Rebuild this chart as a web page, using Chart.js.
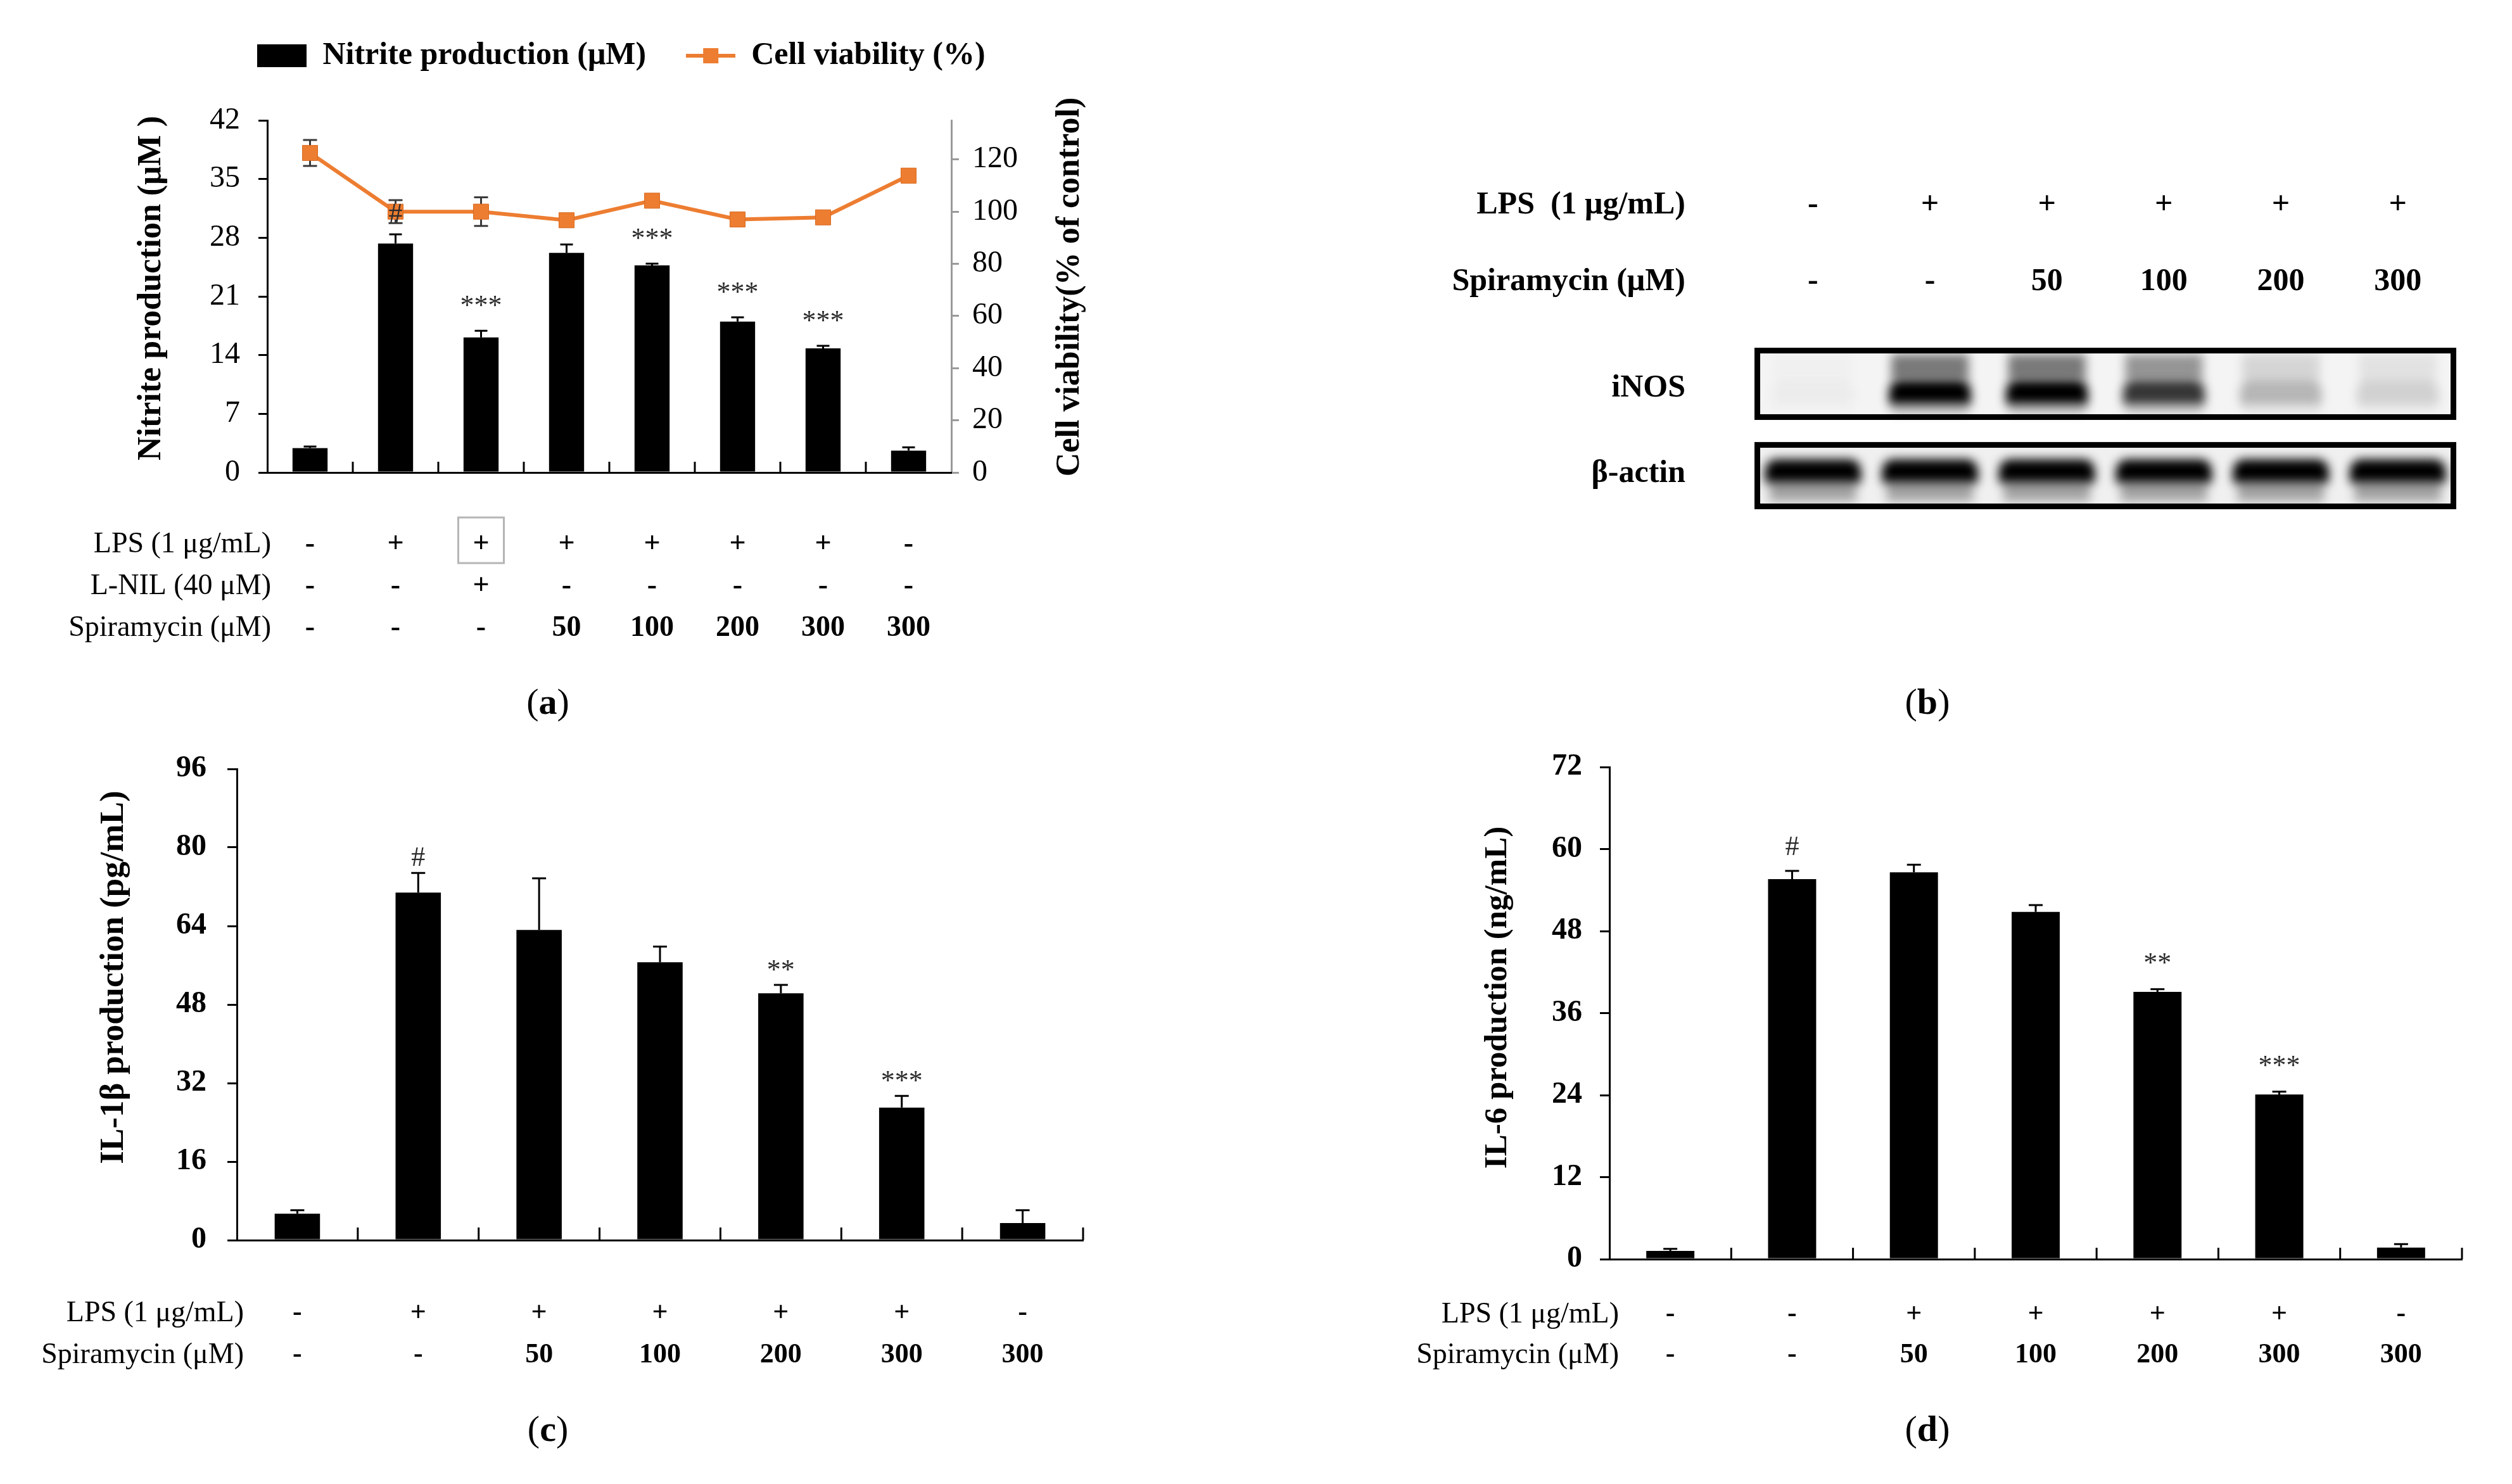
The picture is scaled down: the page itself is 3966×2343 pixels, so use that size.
<!DOCTYPE html>
<html><head><meta charset="utf-8">
<script src="https://cdn.jsdelivr.net/npm/chart.js@4.4.1/dist/chart.umd.min.js"></script>
<style>
html,body{margin:0;padding:0;background:#fff;}
#wrap{position:relative;width:3966px;height:2343px;overflow:hidden;background:#fff;}
canvas{position:absolute;}
.plabel{position:absolute;transform:translate(-50%,-50%);font-family:'Liberation Serif','Times New Roman',serif;font-size:58px;color:#000;white-space:nowrap;line-height:1;}
</style></head><body>
<div id="wrap">
<canvas id="chartA" width="1962" height="1171" style="left:0;top:0"></canvas>
<canvas id="chartB" width="1983" height="1171" style="left:1983px;top:0"></canvas>
<canvas id="chartC" width="1983" height="1172" style="left:0;top:1171px"></canvas>
<canvas id="chartD" width="1983" height="1172" style="left:1983px;top:1171px"></canvas>
<div class="plabel" style="left:865px;top:1108px">(<b>a</b>)</div>
<div class="plabel" style="left:3043px;top:1108px">(<b>b</b>)</div>
<div class="plabel" style="left:865px;top:2256px">(<b>c</b>)</div>
<div class="plabel" style="left:3043px;top:2256px">(<b>d</b>)</div>
</div>
<script>
// ---------------- DATA ----------------
// Panel (a)
const groupsA = ['Control','LPS','LPS+L-NIL','LPS+Spi50','LPS+Spi100','LPS+Spi200','LPS+Spi300','Spi300'];
const lpsRowA = ['-','+','+','+','+','+','+','-'];
const lnilRowA = ['-','-','+','-','-','-','-','-'];
const spiraRowA = ['-','-','-','50','100','200','300','300'];
const nitrite = [2.9, 27.3, 16.1, 26.2, 24.7, 18.0, 14.8, 2.6];
const nitriteErr = [0.2, 1.1, 0.8, 1.0, 0.2, 0.5, 0.3, 0.4];
const viability = [122.5, 100.0, 100.0, 96.7, 104.2, 97.0, 97.8, 113.8];
const viabilityErr = [5.0, 4.4, 5.5, 1.5, 1.0, 1.0, 1.2, 1.0];
const nitriteSig = ['', '#', '***', '', '***', '***', '***', ''];
const nitriteTicks = [0, 7, 14, 21, 28, 35, 42];
const viabilityTicks = [0, 20, 40, 60, 80, 100, 120];
const rowNamesA = ['LPS (1 \u03bcg/mL)', 'L-NIL (40 \u03bcM)', 'Spiramycin (\u03bcM)'];
const titlesA = ['Nitrite production (\u03bcM )', 'Cell viability(% of control)'];

// Panel (b) western blot
const lanesB = ['1','2','3','4','5','6'];
const lpsRowB = ['-','+','+','+','+','+'];
const spiraRowB = ['-','-','50','100','200','300'];
const iNOSLevel = [0.03, 1.0, 1.0, 0.78, 0.25, 0.14];
const actinLevel = [1, 1, 1, 1, 1, 1];
const rowNamesB = ['LPS  (1 \u03bcg/mL)', 'Spiramycin (\u03bcM)'];
const blotNames = ['iNOS', '\u03b2-actin'];

// Panel (c)
const groupsCD = ['Control','LPS','LPS+Spi50','LPS+Spi100','LPS+Spi200','LPS+Spi300','Spi300'];
const lpsRowC = ['-','+','+','+','+','+','-'];
const spiraRowCD = ['-','-','50','100','200','300','300'];
const il1b = [5.4, 70.8, 63.2, 56.6, 50.3, 27.0, 3.5];
const il1bErr = [0.7, 4.0, 10.5, 3.2, 1.7, 2.4, 2.6];
const il1bSig = ['', '#', '', '', '**', '***', ''];
const il1bTicks = [0, 16, 32, 48, 64, 80, 96];
const titleC = 'IL-1\u03b2 production (pg/mL)';

// Panel (d)
const lpsRowD = ['-','-','+','+','+','+','-'];
const il6 = [1.2, 55.6, 56.6, 50.8, 39.1, 24.1, 1.7];
const il6Err = [0.3, 1.2, 1.1, 1.0, 0.4, 0.4, 0.5];
const il6Sig = ['', '#', '', '', '**', '***', ''];
const il6Ticks = [0, 12, 24, 36, 48, 60, 72];
const titleD = 'IL-6 production (ng/mL)';
const rowNamesCD = ['LPS (1 \u03bcg/mL)', 'Spiramycin (\u03bcM)'];

// ---------------- STYLE / HELPERS ----------------
const ORANGE = '#ED7D31';
const FONT = "'Liberation Serif', 'Times New Roman', serif";
Chart.defaults.font.family = FONT;
Chart.defaults.color = '#000';
Chart.defaults.animation = false;

function fontStr(size, weight) { return (weight ? weight + ' ' : '') + size + 'px ' + FONT; }

function drawErrorBars(chart, di, errs, o) {
  const meta = chart.getDatasetMeta(di);
  const ys = chart.scales[meta.yAxisID];
  const vals = chart.data.datasets[di].data;
  const ctx = chart.ctx;
  ctx.save();
  ctx.strokeStyle = o.color; ctx.lineWidth = o.width;
  meta.data.forEach((el, i) => {
    const v = vals[i], e = errs[i];
    if (e == null) return;
    const x = el.x;
    const yT = ys.getPixelForValue(v + e);
    const yB = ys.getPixelForValue(o.both ? v - e : v);
    ctx.beginPath();
    ctx.moveTo(x, yT); ctx.lineTo(x, yB);
    ctx.moveTo(x - o.cap / 2, yT); ctx.lineTo(x + o.cap / 2, yT);
    if (o.both) { ctx.moveTo(x - o.cap / 2, yB); ctx.lineTo(x + o.cap / 2, yB); }
    ctx.stroke();
  });
  ctx.restore();
}

function drawSig(chart, di, errs, marks, gapHash, gapStar, size) {
  const meta = chart.getDatasetMeta(di);
  const ys = chart.scales[meta.yAxisID];
  const vals = chart.data.datasets[di].data;
  const ctx = chart.ctx;
  ctx.save();
  ctx.fillStyle = '#2b2b2b'; ctx.textAlign = 'center'; ctx.textBaseline = 'alphabetic';
  ctx.font = fontStr(size);
  meta.data.forEach((el, i) => {
    const m = marks[i];
    if (!m) return;
    const top = ys.getPixelForValue(vals[i] + errs[i]);
    const isHash = m.charAt(0) === '#';
    const c = top - (isHash ? gapHash : gapStar);
    ctx.fillText(m, el.x, c + (isHash ? 0.34 : 0.5) * size);
  });
  ctx.restore();
}

function drawInnerTicks(chart, len, width, color, includeEnd) {
  const xs = chart.scales.x, ctx = chart.ctx;
  const n = chart.data.labels.length;
  const half = (xs.getPixelForValue(1) - xs.getPixelForValue(0)) / 2;
  ctx.save(); ctx.strokeStyle = color; ctx.lineWidth = width;
  for (let k = 0; k < n; k++) {
    if (k === n - 1 && !includeEnd) continue;
    const x = xs.getPixelForValue(k) + half;
    ctx.beginPath(); ctx.moveTo(x, xs.top); ctx.lineTo(x, xs.top - len); ctx.stroke();
  }
  ctx.restore();
}

function drawRowNames(chart, names, rightX, firstY, step, font) {
  const ctx = chart.ctx;
  ctx.save();
  ctx.fillStyle = '#000'; ctx.textAlign = 'right'; ctx.textBaseline = 'middle'; ctx.font = font;
  names.forEach((t, i) => ctx.fillText(t, rightX, firstY + i * step));
  ctx.restore();
}

function drawVTitle(chart, text, x, y, size) {
  const ctx = chart.ctx;
  ctx.save();
  ctx.translate(x, y); ctx.rotate(-Math.PI / 2);
  ctx.font = fontStr(size, 'bold'); ctx.fillStyle = '#000';
  ctx.textAlign = 'center'; ctx.textBaseline = 'middle';
  ctx.fillText(text, 0, 0);
  ctx.restore();
}

function makeYAxis(o) {
  return {
    type: 'linear', position: o.position || 'left', min: 0, max: o.max,
    afterBuildTicks: s => { s.ticks = o.ticksArr.map(v => ({ value: v })); },
    afterFit: s => { s.width = o.width; },
    grid: { drawOnChartArea: false, drawTicks: true, tickLength: o.tl, color: o.color || '#000', lineWidth: 3 },
    border: { display: true, color: o.color || '#000', width: 3 },
    ticks: { padding: o.pad, font: o.tickFont, color: '#000' },
    title: { display: false }
  };
}

function makeXAxisBottom(o) {
  return {
    type: 'category', position: 'bottom', offset: true,
    grid: { display: false, drawTicks: false },
    border: { display: true, color: '#000', width: 3, z: 1 },
    ticks: {
      autoSkip: false, maxRotation: 0, minRotation: 0, padding: o.pad, font: o.font, color: '#000',
      callback: (v, i) => o.rows.map(r => r[i])
    },
    afterFit: s => { s.height = o.height; }
  };
}

// ---------------- PANEL (a) ----------------
function legendImgBar() {
  const c = document.createElement('canvas'); c.width = 78; c.height = 36;
  const g = c.getContext('2d'); g.fillStyle = '#000'; g.fillRect(0, 0, 78, 36); return c;
}
function legendImgLine() {
  const c = document.createElement('canvas'); c.width = 78; c.height = 30;
  const g = c.getContext('2d'); g.strokeStyle = ORANGE; g.lineWidth = 6;
  g.beginPath(); g.moveTo(0, 15); g.lineTo(78, 15); g.stroke();
  g.fillStyle = ORANGE; g.fillRect(27, 3, 24, 24); return c;
}
const imgBar = legendImgBar(), imgLine = legendImgLine();

const A_XPAD = 81, A_LH = 66;
const decorA = {
  id: 'decorA',
  beforeDatasetDraw(chart, args) {
    if (args.index !== 0) return;
    drawErrorBars(chart, 1, nitriteErr, { both: false, cap: 20, width: 3, color: '#000' });
    drawErrorBars(chart, 0, viabilityErr, { both: true, cap: 22, width: 3, color: '#3a3a3a' });
  },
  afterDatasetsDraw(chart) {
    drawInnerTicks(chart, 17, 3, '#000', false);
    drawSig(chart, 1, nitriteErr, nitriteSig, 34, 48, 44);
  },
  afterDraw(chart) {
    const xs = chart.scales.x, ctx = chart.ctx;
    const y0 = xs.top + A_XPAD + A_LH / 2;
    drawRowNames(chart, rowNamesA, 428, y0, A_LH, fontStr(46));
    const bx = xs.getPixelForValue(2);
    ctx.save(); ctx.strokeStyle = '#b5b5b5'; ctx.lineWidth = 3;
    ctx.strokeRect(bx - 36, y0 - 7 - 36, 72, 72);
    ctx.restore();
    drawVTitle(chart, titlesA[0], 240, 455, 52);
    drawVTitle(chart, titlesA[1], 1690, 453, 52);
  }
};

new Chart(document.getElementById('chartA'), {
  type: 'bar',
  data: {
    labels: groupsA,
    datasets: [
      { type: 'line', label: 'Cell viability (%)', data: viability, xAxisID: 'x', yAxisID: 'y2',
        borderColor: ORANGE, backgroundColor: ORANGE, borderWidth: 6, tension: 0,
        pointStyle: 'rect', pointRadius: 17, pointBackgroundColor: ORANGE, pointBorderColor: '#d86a22', pointBorderWidth: 1,
        order: 0, clip: false },
      { type: 'bar', label: 'Nitrite production (\u03bcM)', data: nitrite, xAxisID: 'x', yAxisID: 'y',
        backgroundColor: '#000', barPercentage: 0.41, categoryPercentage: 1, order: 1 }
    ]
  },
  options: {
    responsive: false, devicePixelRatio: 1, animation: false,
    layout: { padding: { top: 0, left: 0, right: 0, bottom: 0 } },
    plugins: {
      tooltip: { enabled: false },
      legend: {
        display: true, position: 'top',
        labels: {
          usePointStyle: true, pointStyleWidth: 78, boxHeight: 50, padding: 63,
          font: { size: 50, weight: 'bold' }, color: '#000',
          generateLabels: () => [
            { text: 'Nitrite production (\u03bcM)', pointStyle: imgBar, fillStyle: '#000', strokeStyle: '#000', lineWidth: 0, hidden: false, datasetIndex: 1, fontColor: '#000' },
            { text: 'Cell viability (%)', pointStyle: imgLine, fillStyle: ORANGE, strokeStyle: ORANGE, lineWidth: 0, hidden: false, datasetIndex: 0, fontColor: '#000' }
          ]
        }
      }
    },
    scales: {
      x: makeXAxisBottom({ rows: [lpsRowA, lnilRowA, spiraRowA], height: 425, pad: A_XPAD,
        font: { size: 46, weight: 'bold', lineHeight: A_LH / 46 } }),
      xTop: { type: 'category', position: 'top', display: true,
        grid: { display: false, drawTicks: false }, border: { display: false },
        ticks: { display: false }, afterFit: s => { s.height = 67; } },
      y: makeYAxis({ ticksArr: nitriteTicks, max: 42, width: 422, tl: 14, pad: 29, tickFont: { size: 48 } }),
      y2: makeYAxis({ ticksArr: viabilityTicks, max: 135, position: 'right', width: 460, tl: 12, pad: 21,
        tickFont: { size: 48 }, color: '#9a9a9a' })
    }
  },
  plugins: [decorA]
});

// ---------------- PANEL (b) ----------------
const B_PAD = 43.5, B_LH = 121;
const INOS_BOX = [10, 5.53], ACTIN_BOX = [4.16, 0];
const decorB = {
  id: 'decorB',
  beforeDatasetsDraw(chart) {
    const { ctx, chartArea: ca, scales: { y } } = chart;
    ctx.save();
    ctx.fillStyle = '#f4f4f4';
    ctx.fillRect(ca.left, y.getPixelForValue(INOS_BOX[0]), ca.width, y.getPixelForValue(INOS_BOX[1]) - y.getPixelForValue(INOS_BOX[0]));
    ctx.fillStyle = '#f0f0f0';
    ctx.fillRect(ca.left, y.getPixelForValue(ACTIN_BOX[0]), ca.width, y.getPixelForValue(ACTIN_BOX[1]) - y.getPixelForValue(ACTIN_BOX[0]));
    ctx.filter = 'blur(8px)';
  },
  afterDatasetsDraw(chart) {
    const { ctx, chartArea: ca, scales: { x, y } } = chart;
    ctx.restore();
    ctx.save();
    ctx.strokeStyle = '#000'; ctx.lineWidth = 9;
    [INOS_BOX, ACTIN_BOX].forEach(b => {
      const t = y.getPixelForValue(b[0]), bt = y.getPixelForValue(b[1]);
      ctx.strokeRect(ca.left + 4.5, t + 4.5, ca.width - 9, bt - t - 9);
    });
    ctx.restore();
    const yLast = x.bottom - B_PAD - B_LH / 2;
    drawRowNames(chart, rowNamesB, 678, yLast - B_LH, B_LH, fontStr(50, 'bold'));
    drawRowNames(chart, [blotNames[0]], 678, y.getPixelForValue(7.5), 0, fontStr(50, 'bold'));
    drawRowNames(chart, [blotNames[1]], 678, y.getPixelForValue(2.2), 0, fontStr(50, 'bold'));
  }
};

new Chart(document.getElementById('chartB'), {
  type: 'bar',
  data: {
    labels: lanesB,
    datasets: [
      { label: 'iNOS smear', data: lanesB.map(() => [8.0, 9.6]), backgroundColor: iNOSLevel.map(v => 'rgba(0,0,0,' + (0.5 * v).toFixed(3) + ')'),
        barPercentage: 0.66, categoryPercentage: 1, grouped: false },
      { label: 'iNOS tail', data: lanesB.map(() => [5.9, 6.6]), backgroundColor: iNOSLevel.map(v => 'rgba(0,0,0,' + (0.22 * v).toFixed(3) + ')'),
        barPercentage: 0.66, categoryPercentage: 1, grouped: false },
      { label: 'iNOS', data: lanesB.map(() => [6.5, 8.0]), backgroundColor: iNOSLevel.map(v => 'rgba(0,0,0,' + v.toFixed(3) + ')'),
        barPercentage: 0.7, categoryPercentage: 1, grouped: false, borderRadius: 18 },
      { label: '\u03b2-actin smear', data: lanesB.map(() => [0.5, 1.8]), backgroundColor: actinLevel.map(v => 'rgba(0,0,0,' + (0.32 * v).toFixed(3) + ')'),
        barPercentage: 0.74, categoryPercentage: 1, grouped: false },
      { label: '\u03b2-actin', data: lanesB.map(() => [1.65, 3.1]), backgroundColor: actinLevel.map(v => 'rgba(0,0,0,' + v.toFixed(3) + ')'),
        barPercentage: 0.82, categoryPercentage: 1, grouped: false, borderRadius: 34 }
    ]
  },
  options: {
    responsive: false, devicePixelRatio: 1, animation: false,
    layout: { padding: { top: 0, left: 787, right: 88, bottom: 367 } },
    plugins: { legend: { display: false }, tooltip: { enabled: false } },
    scales: {
      x: { type: 'category', position: 'top', offset: true,
        grid: { display: false, drawTicks: false }, border: { display: false },
        ticks: { autoSkip: false, maxRotation: 0, padding: B_PAD, color: '#000',
          font: { size: 50, weight: 'bold', lineHeight: B_LH / 50 },
          callback: (v, i) => [lpsRowB[i], spiraRowB[i]] },
        afterFit: s => { s.height = 549; } },
      y: { display: false, min: 0, max: 10 }
    }
  },
  plugins: [decorB]
});

// ---------------- PANEL (c) ----------------
const C_XPAD = 83, C_LH = 66;
const decorC = {
  id: 'decorC',
  afterDatasetsDraw(chart) {
    drawErrorBars(chart, 0, il1bErr, { both: false, cap: 22, width: 3, color: '#000' });
    drawInnerTicks(chart, 20, 3, '#000', true);
    drawSig(chart, 0, il1bErr, il1bSig, 26, 32, 44);
  },
  afterDraw(chart) {
    const xs = chart.scales.x;
    drawRowNames(chart, rowNamesCD, 385, xs.top + C_XPAD + C_LH / 2, C_LH, fontStr(46));
    drawVTitle(chart, titleC, 180, 372, 53);
  }
};
new Chart(document.getElementById('chartC'), {
  type: 'bar',
  data: { labels: groupsCD, datasets: [
    { label: 'IL-1\u03b2 production (pg/mL)', data: il1b, backgroundColor: '#000', barPercentage: 0.375, categoryPercentage: 1 }
  ] },
  options: {
    responsive: false, devicePixelRatio: 1, animation: false,
    layout: { padding: { top: 43, left: 0, right: 273, bottom: 0 } },
    plugins: { legend: { display: false }, tooltip: { enabled: false } },
    scales: {
      x: makeXAxisBottom({ rows: [lpsRowC, spiraRowCD], height: 385, pad: C_XPAD,
        font: { size: 44, weight: 'bold', lineHeight: C_LH / 44 } }),
      y: makeYAxis({ ticksArr: il1bTicks, max: 96, width: 374, tl: 15, pad: 33,
        tickFont: { size: 48, weight: 'bold', lineHeight: 0.4 } })
    }
  },
  plugins: [decorC]
});

// ---------------- PANEL (d) ----------------
const D_XPAD = 56, D_LH = 64;
const decorD = {
  id: 'decorD',
  afterDatasetsDraw(chart) {
    drawErrorBars(chart, 0, il6Err, { both: false, cap: 22, width: 3, color: '#000' });
    drawInnerTicks(chart, 18, 3, '#000', true);
    drawSig(chart, 0, il6Err, il6Sig, 40, 50, 44);
  },
  afterDraw(chart) {
    const xs = chart.scales.x;
    drawRowNames(chart, rowNamesCD, 573, xs.top + D_XPAD + D_LH / 2, D_LH, fontStr(46));
    drawVTitle(chart, titleD, 382, 404, 51);
  }
};
new Chart(document.getElementById('chartD'), {
  type: 'bar',
  data: { labels: groupsCD, datasets: [
    { label: 'IL-6 production (ng/mL)', data: il6, backgroundColor: '#000', barPercentage: 0.395, categoryPercentage: 1 }
  ] },
  options: {
    responsive: false, devicePixelRatio: 1, animation: false,
    layout: { padding: { top: 40, left: 0, right: 79, bottom: 0 } },
    plugins: { legend: { display: false }, tooltip: { enabled: false } },
    scales: {
      x: makeXAxisBottom({ rows: [lpsRowD, spiraRowCD], height: 355, pad: D_XPAD,
        font: { size: 44, weight: 'bold', lineHeight: D_LH / 44 } }),
      y: makeYAxis({ ticksArr: il6Ticks, max: 72, width: 558, tl: 15, pad: 28,
        tickFont: { size: 48, weight: 'bold', lineHeight: 0.4 } })
    }
  },
  plugins: [decorD]
});
</script>
</body></html>
